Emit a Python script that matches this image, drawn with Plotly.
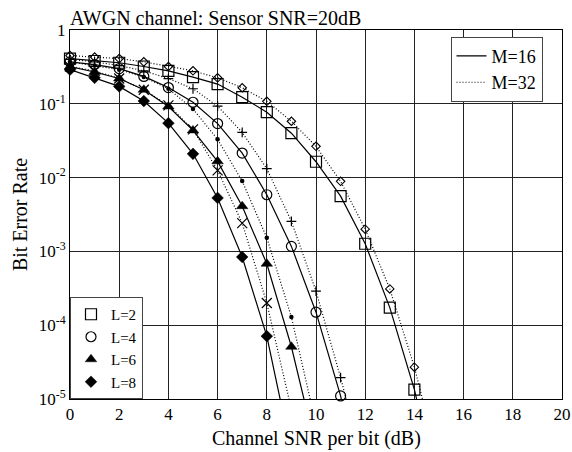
import plotly.graph_objects as go

# ---------------- data ----------------
snr_db = list(range(0, 16))

# M=16 (solid lines)
m16_L2 = [0.41, 0.38, 0.36, 0.32, 0.28, 0.23, 0.185, 0.123, 0.077, 0.040, 0.0164, 0.0056, 0.00127, 1.73e-4, 1.34e-5]
m16_L4 = [0.37, 0.34, 0.30, 0.235, 0.166, 0.105, 0.054, 0.0215, 0.00586, 0.00117, 1.5e-4, 1.1e-5]
m16_L6 = [0.32, 0.27, 0.22, 0.155, 0.092, 0.0436, 0.0166, 0.0041, 6.8e-4, 5.1e-5]
m16_L8 = [0.29, 0.225, 0.172, 0.109, 0.0547, 0.021, 0.0053, 8.4e-4, 7.1e-5]

# M=32 (dotted lines)
m32_L2 = [0.45, 0.43, 0.41, 0.37, 0.32, 0.28, 0.225, 0.165, 0.108, 0.058, 0.0265, 0.0089, 0.0020, 3.1e-4, 2.7e-5]
m32_L4 = [0.40, 0.37, 0.33, 0.28, 0.22, 0.16, 0.093, 0.041, 0.0132, 0.00255, 2.9e-4, 1.95e-5]
m32_L6 = [0.37, 0.33, 0.29, 0.23, 0.16, 0.085, 0.033, 0.0090, 0.00153, 1.29e-4]
m32_L8 = [0.32, 0.28, 0.22, 0.155, 0.095, 0.045, 0.0125, 0.00242, 2.0e-4]

# next (off-scale) value of each curve, so lines run down to the axis edge
tail_m16 = [5e-7, 3e-7, 2.1e-6, 1.9e-6]
tail_m32 = [1.3e-6, 1e-6, 4.5e-6, 7.2e-6]

x_ticks = list(range(0, 21, 2))
y_tickvals = [1e-5, 1e-4, 1e-3, 1e-2, 1e-1, 1]
y_ticktext = ["10<sup>-5</sup>", "10<sup>-4</sup>", "10<sup>-3</sup>",
              "10<sup>-2</sup>", "10<sup>-1</sup>", "1"]

L_labels = ["L=2", "L=4", "L=6", "L=8"]
M_labels = ["M=16", "M=32"]

# ---------------- styles ----------------
FONT = "Liberation Serif, Times New Roman, serif"
DOT = "1px,2px"
m16_markers = [dict(symbol="square-open", size=11, color="black", line=dict(width=1.2, color="black")),
               dict(symbol="circle-open", size=10, color="black", line=dict(width=1.2, color="black")),
               dict(symbol="triangle-up", size=10, color="black", line=dict(width=0.5, color="black")),
               dict(symbol="diamond", size=9, color="black", line=dict(width=0.5, color="black"))]
m32_markers = [dict(symbol="diamond-open", size=6.5, color="black", line=dict(width=1.1, color="black")),
               dict(symbol="cross-thin-open", size=7, color="black", line=dict(width=1.2, color="black")),
               dict(symbol="circle", size=4.5, color="black", line=dict(width=0, color="black")),
               dict(symbol="x-thin-open", size=10, color="black", line=dict(width=1.2, color="black"))]

fig = go.Figure()

def add_series(vals, tail, marker, dash):
    n = len(vals)
    xs = snr_db[:n]
    # line (including the off-scale continuation, clipped by the axes)
    fig.add_trace(go.Scatter(x=xs + [snr_db[n]], y=vals + [tail], mode="lines",
                             line=dict(color="black", width=1.2, dash=dash),
                             showlegend=False, hoverinfo="skip"))
    fig.add_trace(go.Scatter(x=xs, y=vals, mode="markers", marker=marker,
                             showlegend=False, cliponaxis=False))

for vals, tail, mk in zip([m32_L2, m32_L4, m32_L6, m32_L8], tail_m32, m32_markers):
    add_series(vals, tail, mk, DOT)
for vals, tail, mk in zip([m16_L2, m16_L4, m16_L6, m16_L8], tail_m16, m16_markers):
    add_series(vals, tail, mk, "solid")

# legend: line styles (M)
for lab, dash in zip(M_labels, ["solid", DOT]):
    fig.add_trace(go.Scatter(x=[None], y=[None], mode="lines", name=lab,
                             line=dict(color="black", width=1.2, dash=dash),
                             legend="legend"))
# legend: markers (L)
for lab, mk in zip(L_labels, m16_markers):
    fig.add_trace(go.Scatter(x=[None], y=[None], mode="markers", name=lab,
                             marker=mk, legend="legend2"))

axis_common = dict(showline=True, linecolor="black", linewidth=1, mirror=True,
                   showgrid=True, gridcolor="#222", gridwidth=1, zeroline=False,
                   ticks="", automargin=False,
                   tickfont=dict(family=FONT, size=17, color="black"))

fig.update_layout(
    width=572, height=452,
    margin=dict(l=69.5, r=9.5, t=29.5, b=53.3),
    paper_bgcolor="white", plot_bgcolor="white",
    font=dict(family=FONT, color="black"),
    xaxis=dict(range=[0, 20], tickvals=x_ticks, **axis_common),
    yaxis=dict(type="log", range=[-5, 0], tickvals=y_tickvals, ticktext=y_ticktext, **axis_common),
    legend=dict(x=0.9604, xanchor="right", y=0.982, yanchor="top",
                bgcolor="white", bordercolor="#444", borderwidth=1,
                font=dict(family=FONT, size=18, color="black")),
    legend2=dict(x=0, xanchor="left", y=0, yanchor="bottom",
                 bgcolor="white", bordercolor="#444", borderwidth=1,
                 font=dict(family=FONT, size=15, color="black")),
    showlegend=True,
    annotations=[
        dict(text="AWGN channel: Sensor SNR=20dB", xref="paper", yref="paper",
             x=-0.005, y=1.0325, xanchor="left", yanchor="middle", showarrow=False,
             font=dict(family=FONT, size=20, color="black")),
        dict(text="Channel SNR per bit (dB)", xref="paper", yref="paper",
             x=0.5, y=-0.1064, xanchor="center", yanchor="middle", showarrow=False,
             font=dict(family=FONT, size=20, color="black")),
        dict(text="Bit Error Rate", xref="paper", yref="paper", textangle=-90,
             x=-0.1024, y=0.5, xanchor="center", yanchor="middle", showarrow=False,
             font=dict(family=FONT, size=20, color="black")),
    ],
)

fig.write_html("out.html", config={"displayModeBar": False},
               post_script="document.body.style.margin='0px';")
